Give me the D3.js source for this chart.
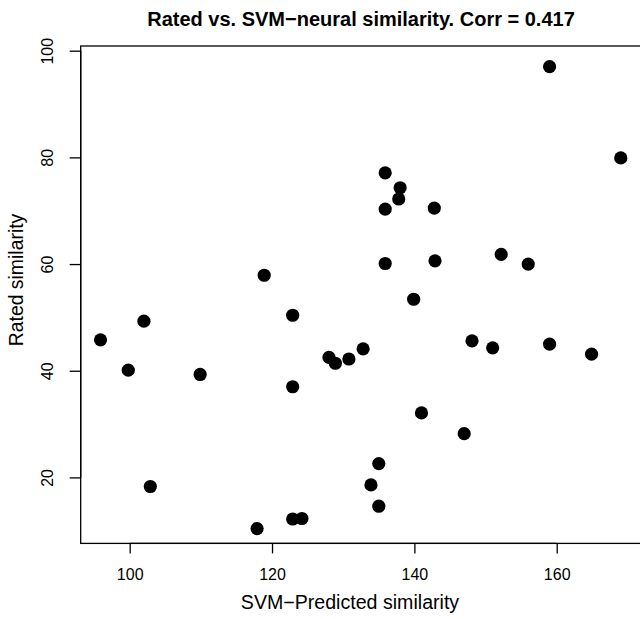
<!DOCTYPE html>
<html>
<head>
<meta charset="utf-8">
<script src="https://cdn.jsdelivr.net/npm/d3@7"></script>
<style>
  body { margin: 0; background: #fff; }
  svg { display: block; font-family: "Liberation Sans", Arial, sans-serif; }
</style>
</head>
<body>
<svg></svg>
<script>
// predicted (x) and rated (y) similarity per pair
var predicted = [95.9, 102.0, 99.8, 109.9, 102.9, 117.9, 122.9, 124.2, 122.9, 122.9,
                 118.9, 135.9, 138.0, 137.8, 135.9, 142.8, 135.9, 142.9, 139.9, 148.1,
                 132.8, 130.8, 128.0, 128.9, 141.0, 147.0, 135.0, 133.9, 135.0, 159.0,
                 169.0, 152.2, 156.0, 151.0, 159.0, 164.9];
var rated = [45.8, 49.3, 40.1, 39.3, 18.3, 10.4, 12.2, 12.3, 37.0, 50.4,
             57.9, 77.1, 74.3, 72.2, 70.3, 70.5, 60.1, 60.6, 53.4, 45.6,
             44.1, 42.2, 42.5, 41.4, 32.1, 28.2, 22.6, 18.6, 14.6, 97.0,
             79.9, 61.8, 60.0, 44.3, 45.0, 43.1];
var xTicks = [100, 120, 140, 160];
var yTicks = [20, 40, 60, 80, 100];

var width = 640, height = 619;
var plotLeft = 80.7, plotRight = 640.4, plotTop = 46, plotBottom = 543.4;

var svg = d3.select("svg")
    .attr("width", width)
    .attr("height", height);

var x = d3.scaleLinear()
    .domain([93.115, 171.76])
    .range([plotLeft, plotRight]);

var y = d3.scaleLinear()
    .domain([7.63, 100.88])
    .range([plotBottom, plotTop]);

var points = predicted.map((p, i) => ({ x: p, y: rated[i] }));

svg.append("g")
  .selectAll("circle")
  .data(points)
  .enter()
  .append("circle")
    .attr("cx", d => x(d.x))
    .attr("cy", d => y(d.y))
    .attr("r", 6.6)
    .attr("fill", "#000");

// box (right side runs off the canvas, as in the original)
svg.append("rect")
    .attr("x", plotLeft)
    .attr("y", plotTop)
    .attr("width", plotRight + 6 - plotLeft)
    .attr("height", plotBottom - plotTop)
    .attr("fill", "none")
    .attr("stroke", "#000")
    .attr("stroke-width", 1.3);

// x axis
var xAxis = svg.append("g")
    .attr("transform", `translate(0,${plotBottom})`)
    .call(d3.axisBottom(x).tickValues(xTicks).tickSize(10).tickPadding(15));
xAxis.attr("font-size", 16).attr("font-family", "Liberation Sans, Arial, sans-serif");
xAxis.select(".domain")
    .attr("d", `M${x(100)},0H${x(160)}`)
    .attr("stroke-width", 1.3);
xAxis.selectAll(".tick line").attr("stroke-width", 1.3);
xAxis.selectAll("text").attr("fill", "#000");

// y axis
var yAxis = svg.append("g")
    .attr("transform", `translate(${plotLeft},0)`)
    .call(d3.axisLeft(y).tickValues(yTicks).tickSize(11));
yAxis.attr("font-size", 16).attr("font-family", "Liberation Sans, Arial, sans-serif");
yAxis.select(".domain")
    .attr("d", `M0,${y(20)}V${y(100)}`)
    .attr("stroke-width", 1.3);
yAxis.selectAll(".tick line").attr("stroke-width", 1.3);
yAxis.selectAll("text")
    .attr("fill", "#000")
    .attr("text-anchor", "middle")
    .attr("dy", 0)
    .attr("x", 0)
    .attr("transform", "translate(-27.5,0) rotate(-90)");

// title and axis labels
svg.append("text")
    .attr("x", 361)
    .attr("y", 26)
    .attr("text-anchor", "middle")
    .attr("font-size", 20)
    .attr("font-weight", "bold")
    .text("Rated vs. SVM\u2212neural similarity. Corr = 0.417");

svg.append("text")
    .attr("x", 350)
    .attr("y", 609)
    .attr("text-anchor", "middle")
    .attr("font-size", 19.6)
    .text("SVM\u2212Predicted similarity");

svg.append("text")
    .attr("transform", "translate(23,280) rotate(-90)")
    .attr("text-anchor", "middle")
    .attr("font-size", 19.4)
    .text("Rated similarity");
</script>
</body>
</html>
